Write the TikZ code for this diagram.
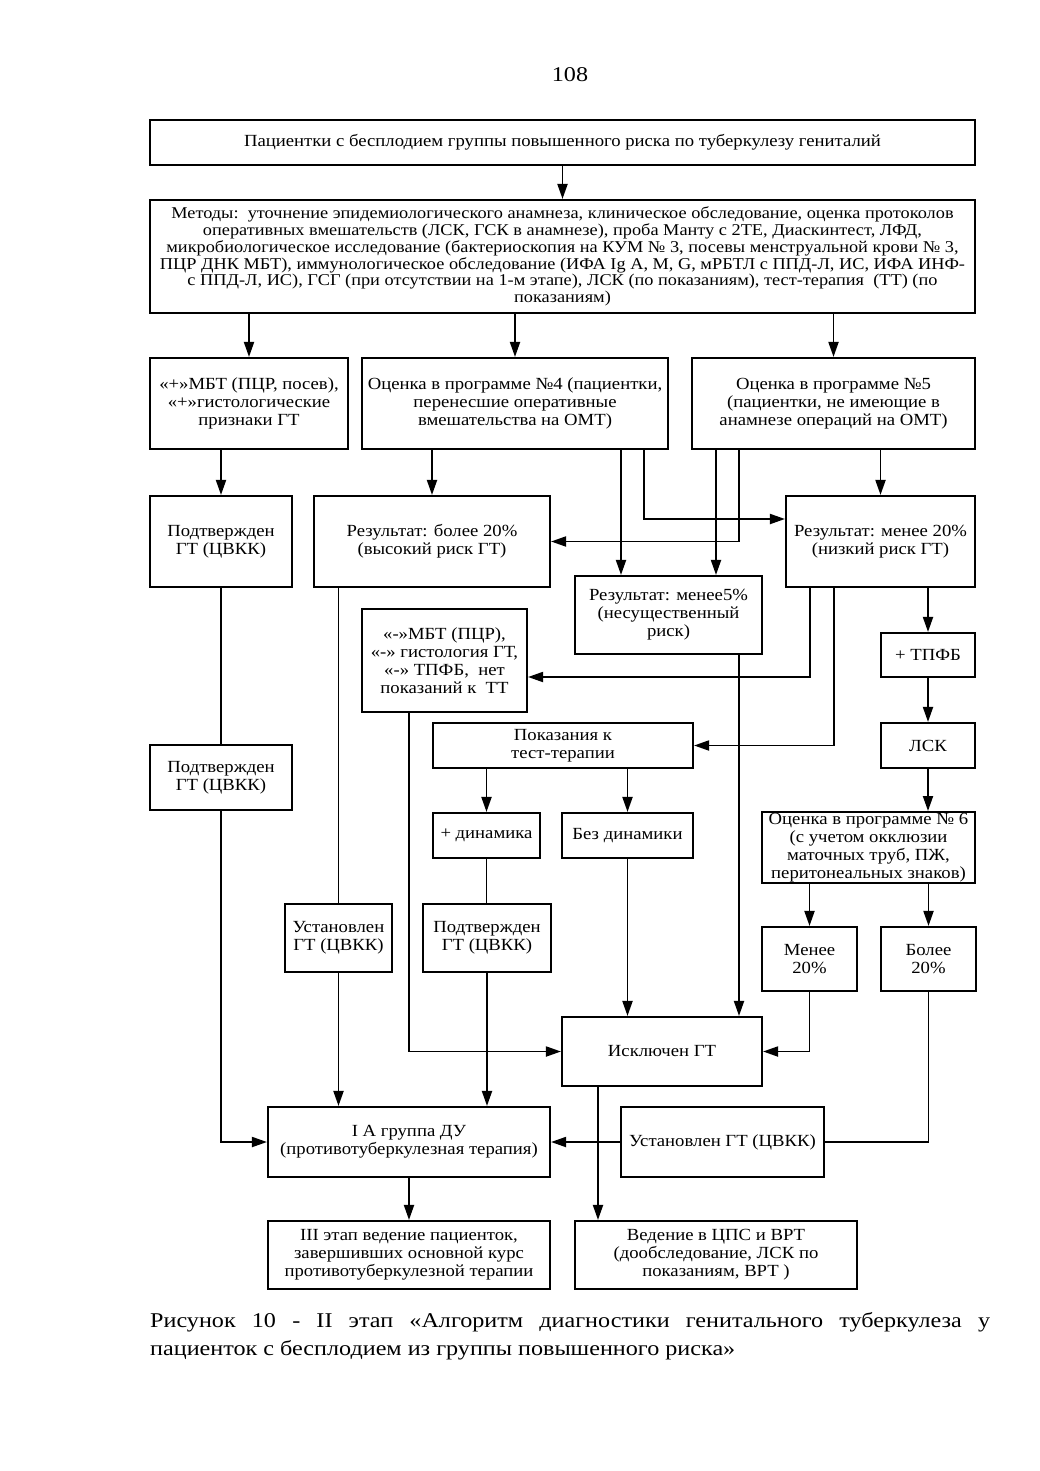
\documentclass[tikz,border=0pt]{standalone}
\usepackage{fontspec}
\setmainfont{Liberation Serif}
\newfontfamily\wideA[FakeStretch=1.1]{Liberation Serif}
\newfontfamily\wideB[FakeStretch=1.11]{Liberation Serif}
\newfontfamily\wideC[FakeStretch=1.15]{Liberation Serif}
\usetikzlibrary{arrows.meta,calc}
\newcommand\fsbox{\wideA\fontsize{17}{18}\selectfont}
\newcommand\fsmeth{\wideB\fontsize{16.5}{16.8}\selectfont}
\tikzset{
  box/.style={draw, line width=2.1pt, inner sep=1pt, align=center, font=\fsbox},
  arr/.style={line width=1.9pt, -{Triangle[length=15pt,width=10pt]}},
  ln/.style={line width=1.9pt},
}
\begin{document}
\begin{tikzpicture}[x=1pt,y=-1pt]
\fill[white] (0,0) rectangle (1040,1471);
\useasboundingbox (0,0) rectangle (1040,1471);

\node[font=\wideC\fontsize{21}{24}\selectfont] (pn) at (570,75) {108};

\node[box, minimum width=825pt, minimum height=45pt] (top) at (562.5,142.5) {Пациентки с бесплодием группы повышенного риска по туберкулезу гениталий};
\node[box, font=\fsmeth, minimum width=825pt, minimum height=113pt] (meth) at (562.5,256.5) {Методы:\ \ уточнение эпидемиологического анамнеза, клиническое обследование, оценка протоколов\\
оперативных вмешательств (ЛСК, ГСК в анамнезе), проба Манту с 2ТЕ, Диаскинтест, ЛФД,\\
микробиологическое исследование (бактериоскопия на КУМ № 3, посевы менструальной крови № 3,\\
ПЦР ДНК МБТ), иммунологическое обследование (ИФА Ig A, M, G, мРБТЛ с ППД-Л, ИС, ИФА ИНФ-\\
с ППД-Л, ИС), ГСГ (при отсутствии на 1-м этапе), ЛСК (по показаниям), тест-терапия\ \ (ТТ) (по\\
показаниям)};

\node[box, minimum width=198pt, minimum height=91pt] (A) at (249,403.5) {«+»МБТ (ПЦР, посев),\\ «+»гистологические\\ признаки ГТ};
\node[box, minimum width=306pt, minimum height=91pt] (B) at (515,403.5) {Оценка в программе №4 (пациентки,\\ перенесшие оперативные\\ вмешательства на ОМТ)};
\node[box, minimum width=283pt, minimum height=91pt] (C) at (833.5,403.5) {Оценка в программе №5\\ (пациентки, не имеющие в\\ анамнезе операций на ОМТ)};

\node[box, minimum width=142pt, minimum height=91pt] (pod1) at (221,541.5) {Подтвержден\\ ГТ (ЦВКК)};
\node[box, minimum width=236pt, minimum height=91pt] (res20hi) at (432,541.5) {Результат: более 20\%\\ (высокий риск ГТ)};
\node[box, minimum width=189pt, minimum height=91pt] (res20lo) at (880.5,541.5) {Результат: менее 20\%\\ (низкий риск ГТ)};
\node[box, minimum width=187pt, minimum height=78pt] (res5) at (668.5,615) {Результат: менее5\%\\ (несущественный\\ риск)};
\node[box, minimum width=165pt, minimum height=103pt] (minusMBT) at (444.5,660.5) {«-»МБТ (ПЦР),\\ «-» гистология ГТ,\\ «-» ТПФБ,\ \ нет\\ показаний к\ \ ТТ};
\node[box, minimum width=94pt, minimum height=44pt] (tpfb) at (928,655) {+ ТПФБ};

\node[box, minimum width=142pt, minimum height=65pt] (pod2) at (221,777.5) {Подтвержден\\ ГТ (ЦВКК)};
\node[box, minimum width=260pt, minimum height=45pt] (pokaz) at (563,745.5) {Показания к\\ тест-терапии};
\node[box, minimum width=94pt, minimum height=45pt] (lsk) at (928,745.5) {ЛСК};
\node[box, minimum width=107pt, minimum height=45pt] (plusdyn) at (486.5,835.5) {+ динамика};
\node[box, minimum width=131pt, minimum height=45pt] (nodyn) at (627.5,835.5) {Без динамики};
\node[box, minimum width=213pt, minimum height=69pt] (prog6) at (868.5,847.5) {Оценка в программе № 6\\ (с учетом окклюзии\\ маточных труб, ПЖ,\\ перитонеальных знаков)};

\node[box, minimum width=107pt, minimum height=68pt] (ustan1) at (338.5,938) {Установлен\\ ГТ (ЦВКК)};
\node[box, minimum width=128pt, minimum height=68pt] (pod3) at (487,938) {Подтвержден\\ ГТ (ЦВКК)};
\node[box, minimum width=95pt, minimum height=64pt] (men20) at (809.5,959) {Менее\\ 20\%};
\node[box, minimum width=95pt, minimum height=64pt] (bol20) at (928.5,959) {Более\\ 20\%};
\node[box, minimum width=200pt, minimum height=69pt] (iskl) at (662,1051.5) {Исключен ГТ};

\node[box, minimum width=282pt, minimum height=70pt] (ia) at (409,1142) {I А группа ДУ\\ (противотуберкулезная терапия)};
\node[box, minimum width=203pt, minimum height=70pt] (ustan2) at (722.5,1142) {Установлен ГТ (ЦВКК)};
\node[box, minimum width=282pt, minimum height=68pt] (iii) at (409,1255) {III этап ведение пациенток,\\ завершивших основной курс\\ противотуберкулезной терапии};
\node[box, minimum width=282pt, minimum height=68pt] (ved) at (716,1255) {Ведение в ЦПС и ВРТ\\ (дообследование, ЛСК по\\ показаниям, ВРТ )};

\node[anchor=north west, inner sep=0pt, align=left, font=\wideC\fontsize{21}{28}\selectfont] (cap) at (150,1312) {\makebox[840pt][s]{Рисунок 10 - II этап «Алгоритм диагностики генитального туберкулеза у}\\ пациенток с бесплодием из группы повышенного риска»};

% helper coordinates
\coordinate (k1) at ([xshift=129pt]B.south);
\coordinate (k2) at ([xshift=-94.5pt]C.south);
\coordinate (k3) at ([xshift=-47.5pt]res5.north);
\coordinate (k4) at ([xshift=47.5pt]res5.north);
\coordinate (k5) at ([xshift=-70.5pt]res20lo.south);
\coordinate (k6) at ([xshift=-46.5pt]res20lo.south);
\coordinate (k7) at ([xshift=-35.5pt]minusMBT.south);
\coordinate (k8) at ([xshift=70.5pt]res5.south);
\coordinate (k9) at ([xshift=-64pt]iskl.south);
\coordinate (k10) at ([yshift=22.5pt]res20lo.west);
\coordinate (k11) at ([yshift=-16.5pt]minusMBT.east);

\draw[arr] (top.south) -- (meth.north);
\draw[arr] (meth.south -| A.north) -- (A.north);
\draw[arr] (meth.south -| B.north) -- (B.north);
\draw[arr] (meth.south -| C.north) -- (C.north);
\draw[arr] (A.south -| pod1.north) -- (pod1.north);
\draw[arr] (B.south -| res20hi.north) -- (res20hi.north);
\draw[arr] (C.south -| res20lo.north) -- (res20lo.north);
\draw[arr] (k1) |- (k10);
\draw[arr] (k2) |- (res20hi.east);
\draw[arr] (k3 |- B.south) -- (k3);
\draw[arr] (k4 |- C.south) -- (k4);
\draw[arr] (k5) |- (k11);
\draw[arr] (k6) |- (pokaz.east);
\draw[arr] (res20lo.south -| tpfb.north) -- (tpfb.north);
\draw[arr] (tpfb.south) -- (lsk.north);
\draw[arr] (lsk.south) -- (lsk.south |- prog6.north);
\draw[ln] (res20hi.south -| ustan1.north) -- (ustan1.north);
\draw[arr] (ustan1.south) -- (ustan1.south |- ia.north);
\draw[ln] (pod1.south) -- (pod2.north);
\draw[arr] (pod2.south) |- (ia.west);
\draw[arr] (k7) |- (iskl.west);
\draw[arr] (pokaz.south -| plusdyn.north) -- (plusdyn.north);
\draw[arr] (pokaz.south -| nodyn.north) -- (nodyn.north);
\draw[ln] (plusdyn.south) -- (plusdyn.south |- pod3.north);
\draw[arr] (pod3.south) -- (pod3.south |- ia.north);
\draw[arr] (nodyn.south) -- (nodyn.south |- iskl.north);
\draw[arr] (k8) -- (k8 |- iskl.north);
\draw[arr] (prog6.south -| men20.north) -- (men20.north);
\draw[arr] (prog6.south -| bol20.north) -- (bol20.north);
\draw[arr] (men20.south) |- (iskl.east);
\draw[ln] (bol20.south) |- (ustan2.east);
\draw[arr] (ustan2.west) -- (ia.east);
\draw[arr] (k9) -- (k9 |- ved.north);
\draw[arr] (ia.south) -- (iii.north);
\end{tikzpicture}
\end{document}
